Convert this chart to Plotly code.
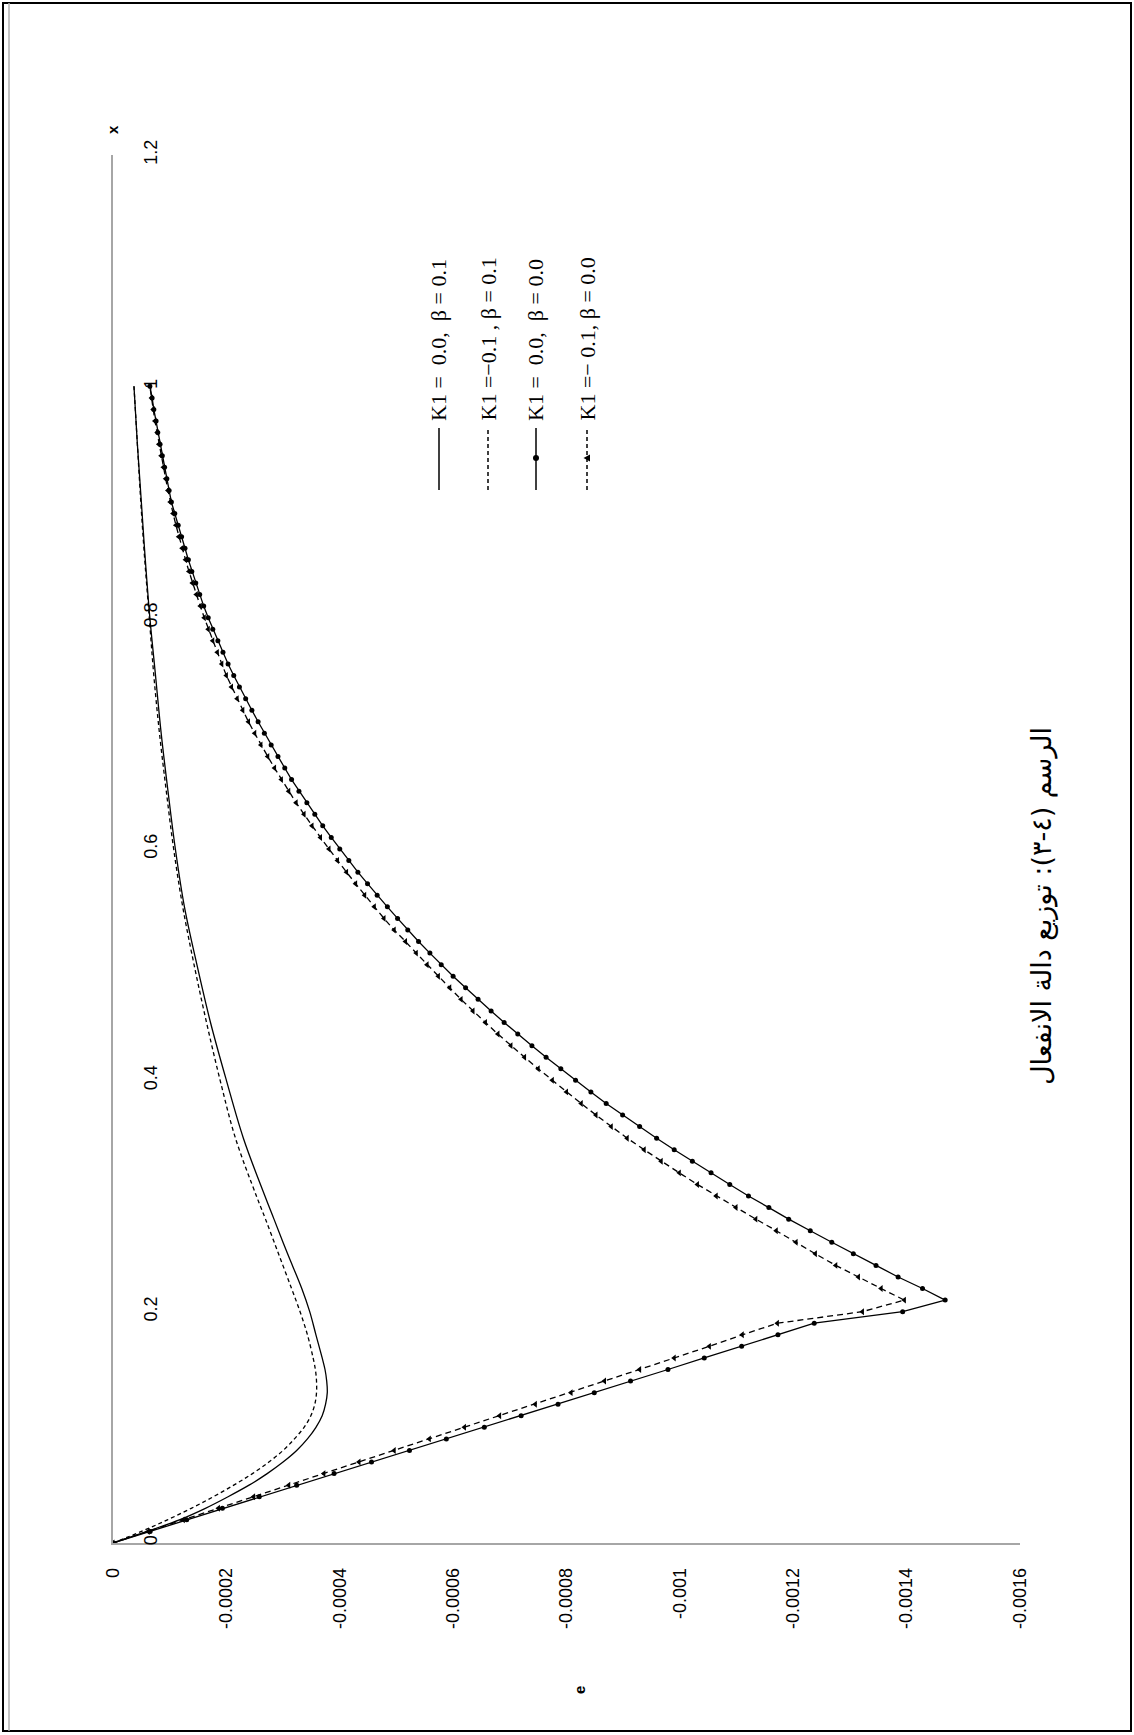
import plotly.graph_objects as go

# ---------------- data ----------------
# x (vertical axis, 0..1.2) and e (horizontal axis, 0..-0.0016)
x_marked = [0.00, 0.01, 0.02, 0.03, 0.04, 0.05, 0.06, 0.07, 0.08, 0.09,
            0.10, 0.11, 0.12, 0.13, 0.14, 0.15, 0.16, 0.17, 0.18, 0.19,
            0.20, 0.21, 0.22, 0.23, 0.24, 0.25, 0.26, 0.27, 0.28, 0.29,
            0.30, 0.31, 0.32, 0.33, 0.34, 0.35, 0.36, 0.37, 0.38, 0.39,
            0.40, 0.41, 0.42, 0.43, 0.44, 0.45, 0.46, 0.47, 0.48, 0.49,
            0.50, 0.51, 0.52, 0.53, 0.54, 0.55, 0.56, 0.57, 0.58, 0.59,
            0.60, 0.61, 0.62, 0.63, 0.64, 0.65, 0.66, 0.67, 0.68, 0.69,
            0.70, 0.71, 0.72, 0.73, 0.74, 0.75, 0.76, 0.77, 0.78, 0.79,
            0.80, 0.81, 0.82, 0.83, 0.84, 0.85, 0.86, 0.87, 0.88, 0.89,
            0.90, 0.91, 0.92, 0.93, 0.94, 0.95, 0.96, 0.97, 0.98, 0.99, 1.00]

# K1 = 0.0, beta = 0.0  (solid, circles)
e_k0_b0 = [0, -0.0000655, -0.000130, -0.000193, -0.000258, -0.000324, -0.000390, -0.000456, -0.000523, -0.000588,
           -0.000655, -0.000720, -0.000785, -0.000849, -0.000913, -0.000979, -0.001043, -0.001109, -0.001173, -0.001237,
           -0.001393, -0.001468, -0.001428, -0.001385, -0.001346, -0.001306, -0.001268, -0.001230, -0.001192, -0.001157,
           -0.001121, -0.001088, -0.001055, -0.001022, -0.000990, -0.000959, -0.000929, -0.000899, -0.000870, -0.000843,
           -0.000816, -0.000790, -0.000764, -0.000739, -0.000714, -0.000690, -0.000667, -0.000644, -0.000622, -0.000600,
           -0.000579, -0.000559, -0.000539, -0.000520, -0.000502, -0.000484, -0.000466, -0.000449, -0.000432, -0.000416,
           -0.000400, -0.000385, -0.000370, -0.000356, -0.000342, -0.000328, -0.000315, -0.000303, -0.000291, -0.000279,
           -0.000267, -0.000256, -0.000245, -0.000234, -0.000223, -0.000213, -0.000203, -0.000194, -0.000185, -0.000176,
           -0.000168, -0.000160, -0.000153, -0.000146, -0.000139, -0.000133, -0.000127, -0.000121, -0.000115, -0.000109,
           -0.000103, -0.000099, -0.000095, -0.000091, -0.000087, -0.000083, -0.000079, -0.000076, -0.000072, -0.000069,
           -0.000065]

# K1 = -0.1, beta = 0.0  (dashed, triangles)
e_km1_b0 = [0, -0.000062, -0.000124, -0.000186, -0.000248, -0.000310, -0.000372, -0.000434, -0.000496, -0.000558,
            -0.000620, -0.000682, -0.000745, -0.000808, -0.000867, -0.000929, -0.000990, -0.001052, -0.001110, -0.001172,
            -0.001322, -0.001396, -0.001355, -0.001315, -0.001275, -0.001239, -0.001205, -0.001170, -0.001134, -0.001099,
            -0.001064, -0.001031, -0.000999, -0.000967, -0.000937, -0.000907, -0.000879, -0.000852, -0.000826, -0.000800,
            -0.000775, -0.000750, -0.000726, -0.000702, -0.000679, -0.000657, -0.000635, -0.000614, -0.000594, -0.000574,
            -0.000554, -0.000535, -0.000516, -0.000496, -0.000478, -0.000461, -0.000444, -0.000428, -0.000412, -0.000396,
            -0.000381, -0.000366, -0.000351, -0.000337, -0.000323, -0.000310, -0.000297, -0.000285, -0.000273, -0.000261,
            -0.000250, -0.000239, -0.000229, -0.000219, -0.000209, -0.000200, -0.000192, -0.000184, -0.000176, -0.000168,
            -0.000161, -0.000154, -0.000147, -0.000140, -0.000134, -0.000128, -0.000122, -0.000116, -0.000111, -0.000106,
            -0.000101, -0.000097, -0.000093, -0.000089, -0.000085, -0.000081, -0.000078, -0.000074, -0.000071, -0.000068,
            -0.000065]

x_smooth = [0.00, 0.01, 0.02, 0.03, 0.04, 0.05, 0.06, 0.07, 0.08, 0.09, 0.10, 0.11, 0.12, 0.13,
            0.14, 0.15, 0.16, 0.18, 0.20, 0.22, 0.25, 0.28, 0.30, 0.35, 0.40, 0.45, 0.50, 0.55,
            0.60, 0.65, 0.70, 0.75, 0.80, 0.85, 0.90, 0.95, 1.00]

# K1 = 0.0, beta = 0.1  (solid)
e_k0_b1 = [0, -0.000060, -0.000117, -0.000163, -0.000203, -0.000240, -0.000272, -0.000300, -0.000324, -0.000343,
           -0.000358, -0.000369, -0.000375, -0.000378, -0.000377, -0.000374, -0.000369, -0.000358, -0.000347, -0.000333,
           -0.000308, -0.000284, -0.000268, -0.000230, -0.000200, -0.000172, -0.000148, -0.000126, -0.000110, -0.000097,
           -0.000085, -0.000075, -0.000065, -0.000057, -0.000050, -0.000043, -0.000037]

# K1 = -0.1, beta = 0.1  (dashed)
e_km1_b1 = [0, -0.000050, -0.000096, -0.000138, -0.000177, -0.000213, -0.000246, -0.000275, -0.000300, -0.000320,
            -0.000337, -0.000349, -0.000356, -0.000359, -0.000359, -0.000357, -0.000353, -0.000343, -0.000330, -0.000315,
            -0.000292, -0.000269, -0.000253, -0.000216, -0.000189, -0.000165, -0.000143, -0.000123, -0.000107, -0.000094,
            -0.000082, -0.000072, -0.000064, -0.000056, -0.000049, -0.000043, -0.000037]

e_ticks = [0, -0.0002, -0.0004, -0.0006, -0.0008, -0.001, -0.0012, -0.0014, -0.0016]
e_tick_labels = ["0", "-0.0002", "-0.0004", "-0.0006", "-0.0008", "-0.001", "-0.0012", "-0.0014", "-0.0016"]
x_ticks = [0, 0.2, 0.4, 0.6, 0.8, 1.0, 1.2]
x_tick_labels = ["0", "0.2", "0.4", "0.6", "0.8", "1", "1.2"]

legend_labels = ["K1 =  0.0,  \u03b2 = 0.1", "K1 =\u22120.1 , \u03b2 = 0.1",
                 "K1 =  0.0,  \u03b2 = 0.0", "K1 =\u2212 0.1, \u03b2 = 0.0"]
caption = "الرسم (٤-٣): توزيع دالة الانفعال"

# ---------------- layout geometry ----------------
W, H = 1134, 1735
L, R, T, B = 113, 1020, 155, 1543


def px(v):
    return (v - L) / (R - L)


def py(v):
    return (B - v) / (B - T)


fig = go.Figure()

fig.add_trace(go.Scatter(x=e_k0_b1, y=x_smooth, mode="lines", line=dict(color="black", width=1.3, shape="spline"),
                         showlegend=False))
fig.add_trace(go.Scatter(x=e_km1_b1, y=x_smooth, mode="lines",
                         line=dict(color="black", width=1.3, dash="4px,3px", shape="spline"), showlegend=False))
fig.add_trace(go.Scatter(x=e_k0_b0, y=x_marked, mode="lines+markers", line=dict(color="black", width=1.3),
                         marker=dict(symbol="circle", size=5, color="black"), showlegend=False))
fig.add_trace(go.Scatter(x=e_km1_b0, y=x_marked, mode="lines+markers",
                         line=dict(color="black", width=1.3, dash="6px,4px"),
                         marker=dict(symbol="triangle-left", size=6, color="black"), showlegend=False))

tickfont = dict(family="Liberation Sans, Arial, sans-serif", size=18, color="black")

fig.update_layout(
    width=W, height=H,
    margin=dict(l=L, r=W - R, t=T, b=H - B, pad=0),
    paper_bgcolor="white", plot_bgcolor="white",
    showlegend=False,
    xaxis=dict(range=[0, -0.0016], tickvals=e_ticks, ticktext=e_tick_labels, tickangle=-90,
               showgrid=False, zeroline=False, showline=True, linecolor="#a6a6a6", linewidth=1.5,
               ticks="outside", ticklen=16, tickcolor="rgba(0,0,0,0)", tickfont=tickfont,
               ticklabeloverflow="allow"),
    yaxis=dict(range=[0, 1.2], tickvals=x_ticks, ticktext=x_tick_labels, tickangle=-90,
               showgrid=False, zeroline=False, showline=True, linecolor="#a6a6a6", linewidth=1.5,
               ticks="inside", ticklen=23, tickcolor="rgba(0,0,0,0)", ticklabelposition="inside",
               ticklabeloverflow="allow", tickfont=tickfont),
)

shapes = []
annotations = []

# page frame
shapes.append(dict(type="rect", xref="paper", yref="paper", x0=px(3), x1=px(1131), y0=py(1731), y1=py(3),
                   line=dict(color="black", width=2)))
shapes.append(dict(type="line", xref="paper", yref="paper", x0=px(9), x1=px(9), y0=py(1731), y1=py(3),
                   line=dict(color="#b0b0b0", width=1.5)))

# legend (rotated)
leg_x = [439, 488, 536, 587]
leg_dash = ["solid", "4px,3px", "solid", "4px,3px"]
for i, (lx, lab) in enumerate(zip(leg_x, legend_labels)):
    shapes.append(dict(type="line", xref="paper", yref="paper", x0=px(lx), x1=px(lx), y0=py(490), y1=py(428),
                       line=dict(color="black", width=1.5, dash=leg_dash[i])))
    annotations.append(dict(xref="paper", yref="paper", x=px(lx), y=py(423), text=lab, showarrow=False,
                            textangle=-90, xanchor="center", yanchor="bottom",
                            font=dict(family="Liberation Serif, Times New Roman, serif", size=22, color="black")))
# legend markers
shapes.append(dict(type="circle", xref="paper", yref="paper", xsizemode="pixel", ysizemode="pixel",
                   xanchor=px(536), yanchor=py(458), x0=-3, x1=3, y0=-3, y1=3,
                   fillcolor="black", line=dict(color="black", width=0)))
shapes.append(dict(type="path", xref="paper", yref="paper", xsizemode="pixel", ysizemode="pixel",
                   xanchor=px(587), yanchor=py(458), path="M -3.5 0 L 3 3.5 L 3 -3.5 Z",
                   fillcolor="black", line=dict(color="black", width=0)))

# axis titles
annotations.append(dict(xref="paper", yref="paper", x=px(113), y=py(130), text="<b>x</b>", showarrow=False,
                        font=dict(family="Liberation Sans, Arial, sans-serif", size=15, color="black"),
                        textangle=-90, xanchor="center", yanchor="middle"))
annotations.append(dict(xref="paper", yref="paper", x=px(580), y=py(1690), text="<b>e</b>", showarrow=False,
                        font=dict(family="Liberation Sans, Arial, sans-serif", size=15, color="black"),
                        textangle=-90, xanchor="center", yanchor="middle"))

# caption
annotations.append(dict(xref="paper", yref="paper", x=px(1042), y=py(906), text=caption, showarrow=False,
                        textangle=-90, xanchor="center", yanchor="middle",
                        font=dict(family="DejaVu Sans, sans-serif", size=27, color="black")))

fig.update_layout(shapes=shapes, annotations=annotations)

fig.write_html("out.html", config={"displayModeBar": False},
               post_script="document.body.style.margin='0';document.body.style.overflow='hidden';")
